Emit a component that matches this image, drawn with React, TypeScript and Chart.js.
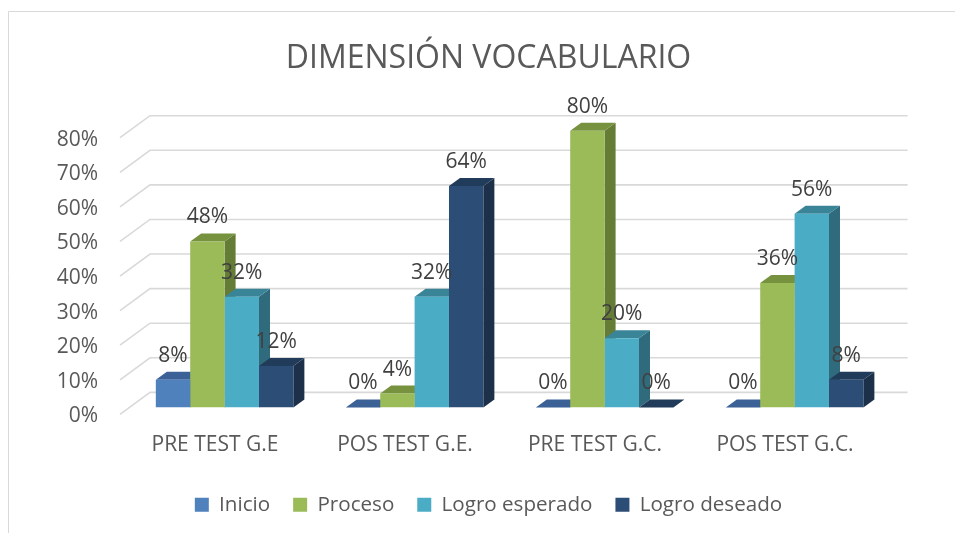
import React, { useEffect, useRef } from 'react';
import { Chart, registerables } from 'chart.js';

Chart.register(...registerables);

const title = 'DIMENSIÓN VOCABULARIO';
const categories = ['PRE TEST G.E', 'POS TEST G.E.', 'PRE TEST G.C.', 'POS TEST G.C.'];
const seriesNames = ['Inicio', 'Proceso', 'Logro esperado', 'Logro deseado'];
const inicio = [8, 0, 0, 0];
const proceso = [48, 4, 80, 36];
const logroEsperado = [32, 32, 20, 56];
const logroDeseado = [12, 64, 0, 8];
const yMax = 80;
const yStep = 10;

const frontColors = ['#4F81BD', '#9BBB59', '#4BACC6', '#2C4D75'];
const topColors = ['#3B6196', '#77923F', '#3A8498', '#213B5A'];
const sideColors = ['#30507A', '#657C36', '#2F6B7C', '#1C3149'];

const FONT = "'Open Sans', 'Noto Sans', sans-serif";
// depth geometry (pixels)
const BAR_DX = 11;
const BAR_DY = -8;
const WALL_FRONT_DX = -9.6;
const WALL_FRONT_DY = 7;
const WALL_BACK_DX = 20.4;
const WALL_BACK_DY = -15;

const threeD = {
  id: 'threeD',
  afterLayout(chart: any) {
    // let the y tick labels extend left of the narrow axis box without clipping
    const ys = chart.scales.y;
    ys.left = 0;
  },
  beforeDraw(chart: any) {
    const ctx = chart.ctx;
    ctx.save();
    ctx.strokeStyle = '#D9D9D9';
    ctx.lineWidth = 1;
    ctx.beginPath();
    ctx.moveTo(8.5, 2000);
    ctx.lineTo(8.5, 11.5);
    ctx.lineTo(2000, 11.5);
    ctx.stroke();
    ctx.restore();
  },
  beforeDatasetsDraw(chart: any) {
    const ctx = chart.ctx;
    const ys = chart.scales.y;
    const { left, right } = chart.chartArea;
    ctx.save();
    // walls / gridlines
    ctx.strokeStyle = '#D9D9D9';
    ctx.lineWidth = 1.6;
    ys.ticks.forEach((t: any) => {
      const py = ys.getPixelForValue(t.value);
      ctx.beginPath();
      ctx.moveTo(left + WALL_FRONT_DX, py + WALL_FRONT_DY);
      ctx.lineTo(left + WALL_BACK_DX, py + WALL_BACK_DY);
      ctx.lineTo(right + 18, py + WALL_BACK_DY);
      ctx.stroke();
    });
    // side faces
    chart.data.datasets.forEach((ds: any, di: number) => {
      const meta = chart.getDatasetMeta(di);
      meta.data.forEach((bar: any) => {
        const { x, y, base, width } = bar.getProps(['x', 'y', 'base', 'width'], true);
        const r = x + width / 2;
        ctx.fillStyle = sideColors[di];
        ctx.beginPath();
        ctx.moveTo(r, y);
        ctx.lineTo(r + BAR_DX, y + BAR_DY);
        ctx.lineTo(r + BAR_DX, base + BAR_DY);
        ctx.lineTo(r, base);
        ctx.closePath();
        ctx.fill();
      });
    });
    // top faces
    chart.data.datasets.forEach((ds: any, di: number) => {
      const meta = chart.getDatasetMeta(di);
      meta.data.forEach((bar: any) => {
        const { x, y, width } = bar.getProps(['x', 'y', 'width'], true);
        const l = x - width / 2;
        const r = x + width / 2;
        ctx.fillStyle = topColors[di];
        ctx.beginPath();
        ctx.moveTo(l, y);
        ctx.lineTo(l + BAR_DX, y + BAR_DY);
        ctx.lineTo(r + BAR_DX, y + BAR_DY);
        ctx.lineTo(r, y);
        ctx.closePath();
        ctx.fill();
      });
    });
    ctx.restore();
  },
  afterDatasetsDraw(chart: any) {
    const ctx = chart.ctx;
    ctx.save();
    ctx.font = `21px ${FONT}`;
    ctx.fillStyle = '#404040';
    ctx.textAlign = 'center';
    ctx.textBaseline = 'middle';
    chart.data.datasets.forEach((ds: any, di: number) => {
      const meta = chart.getDatasetMeta(di);
      meta.data.forEach((bar: any, i: number) => {
        const { x, y } = bar.getProps(['x', 'y'], true);
        ctx.fillText(`${ds.data[i]}%`, x, y - 24);
      });
    });
    ctx.restore();
  },
};

export default function App() {
  const ref = useRef<HTMLCanvasElement | null>(null);
  useEffect(() => {
    if (!ref.current) return;
    const series = [inicio, proceso, logroEsperado, logroDeseado];
    const chart = new Chart(ref.current, {
      type: 'bar',
      data: {
        labels: categories,
        datasets: series.map((d, i) => ({
          label: seriesNames[i],
          data: d,
          backgroundColor: frontColors[i],
          borderWidth: 0,
          categoryPercentage: 0.724,
          barPercentage: 1,
        })),
      },
      options: {
        animation: false,
        responsive: true,
        maintainAspectRatio: false,
        layout: { padding: { top: 15, left: 87.4, right: 65.4, bottom: 8 } },
        plugins: {
          tooltip: { enabled: false },
          title: {
            display: true,
            text: title,
            color: '#595959',
            font: { family: FONT, size: 32, weight: 'normal' },
            padding: { top: 25, bottom: 52.3 },
          },
          legend: {
            position: 'bottom',
            labels: {
              boxWidth: 14,
              boxHeight: 14,
              padding: 23,
              color: '#595959',
              font: { family: FONT, size: 20.6 },
            },
          },
        },
        scales: {
          x: {
            grid: { display: false, drawTicks: false },
            border: { display: false },
            ticks: {
              color: '#595959',
              font: { family: FONT, size: 21 },
              padding: 25,
              labelOffset: -9.6,
              maxRotation: 0,
              autoSkip: false,
            },
            afterFit: (s: any) => { s.height = 64; },
          },
          y: {
            min: 0,
            max: yMax,
            grid: { display: false, drawTicks: false },
            border: { display: false },
            ticks: {
              stepSize: yStep,
              color: '#595959',
              font: { family: FONT, size: 21 },
              padding: 31.6,
              labelOffset: 9,
              callback: (v: any) => `${v}%`,
            },
            afterFit: (s: any) => { s.width = 42.2; },
          },
        },
      },
      plugins: [threeD],
    });
    return () => chart.destroy();
  }, []);
  return (
    <div style={{ position: 'fixed', left: 0, top: 0, width: 955, height: 533, background: '#fff' }}>
      <canvas ref={ref} />
    </div>
  );
}
